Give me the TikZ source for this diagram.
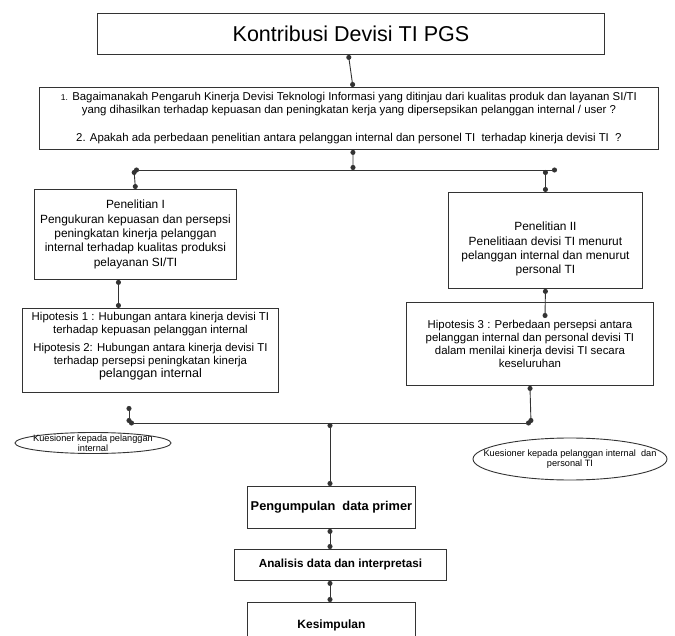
\documentclass[tikz,border=0pt]{standalone}
\usepackage{fontspec}
\setmainfont{Liberation Sans}
\usetikzlibrary{shapes.geometric,arrows.meta}

\begin{document}
\begin{tikzpicture}
[
    x=1pt, y=-1pt,
    every node/.style={draw=black!80,line width=0.9pt,inner sep=0pt,align=center,anchor=north west},
    link/.style={draw=black!80,line width=0.9pt,{Circle[length=5pt,width=5pt]}-{Circle[length=5pt,width=5pt]}},
    oval/.style={ellipse,anchor=center,font=\fontsize{9.2}{10}\selectfont},
    small/.style={font=\fontsize{11.4}{13}\selectfont},
    big/.style={font=\fontsize{11.9}{14.3}\selectfont},
    step box/.style={font=\bfseries\fontsize{12}{14}\selectfont}
  ]

  \path[fill=white,use as bounding box] (0,0) rectangle (675,636);

  \node[font=\fontsize{21.5}{24}\selectfont,minimum width=507pt,minimum height=41pt] (title) at (97,13)
    {Kontribusi Devisi TI PGS};
  \node[small,minimum width=619pt,minimum height=62pt] (quest) at (39,87)
    {{\fontsize{8.5}{8}\selectfont 1.} Bagaimanakah Pengaruh Kinerja Devisi Teknologi Informasi yang ditinjau dari kualitas produk dan layanan SI/TI\\
     yang dihasilkan terhadap kepuasan dan peningkatan kerja yang dipersepsikan pelanggan internal / user ?\\[15pt]
     2. Apakah ada perbedaan penelitian antara pelanggan internal dan personel TI\ \ terhadap kinerja devisi TI\ \ ?};

  \node[big,minimum width=202pt,minimum height=90pt] (pen1) at (34,189)
    {Penelitian I\\ Pengukuran kepuasan dan persepsi\\ peningkatan kinerja pelanggan\\
     internal terhadap kualitas produksi\\ pelayanan SI/TI};
  \node[small,minimum width=256pt,minimum height=84pt] (hip12) at (22,308)
    {Hipotesis 1 : Hubungan antara kinerja devisi TI\\ terhadap kepuasan pelanggan internal\\[5pt]
     Hipotesis 2: Hubungan antara kinerja devisi TI\\ terhadap persepsi peningkatan kinerja\\
     {\fontsize{12.5}{16}\selectfont pelanggan internal}\rule[-11pt]{0pt}{1pt}};

  \node[big,minimum width=194pt,minimum height=96pt] (pen2) at (448,192)
    {\rule{0pt}{26pt}Penelitian II\\ Penelitiaan devisi TI menurut\\ pelanggan internal dan menurut\\ personal TI};
  \node[small,minimum width=247pt,minimum height=83pt] (hip3) at (406,302)
    {Hipotesis 3 : Perbedaan persepsi antara\\ pelanggan internal dan personal devisi TI\\
     dalam menilai kinerja devisi TI secara\\ keseluruhan};

  \node[oval,inner xsep=-7pt,inner ysep=-2.5pt,minimum width=156pt,minimum height=21pt] (kues1) at (93,443)
    {Kuesioner kepada pelanggan\\ internal};
  \node[oval,inner xsep=-19pt,minimum width=194pt,minimum height=42pt] (kues2) at (570,459)
    {Kuesioner kepada pelanggan internal\ \ dan\\ personal TI};

  \node[step box,font=\bfseries\fontsize{12.8}{14}\selectfont,minimum width=168pt,minimum height=42pt] (collect) at (247,486)
    {Pengumpulan\ \ data primer};
  \node[step box,font=\bfseries\fontsize{11.7}{14}\selectfont,minimum width=212pt,minimum height=31pt] (analysis) at (234,549)
    {Analisis data dan interpretasi};
  \node[step box,minimum width=168pt,minimum height=46pt] (result) at (247,602)
    {Kesimpulan};

  \coordinate (topmid) at (353,170);
  \coordinate (topleft) at (134,170);
  \coordinate (topright) at (557,170);
  \coordinate (hipdot) at (545,318);
  \coordinate (stub) at (129,406);
  \coordinate (botleft) at (129,423);
  \coordinate (botmid) at (330,423);
  \coordinate (botright) at (531,423);

  \draw[link] ([xshift=-2.5pt]title.south) -- ([xshift=4pt]quest.north);
  \draw[link] ([xshift=4pt]quest.south) -- (topmid);
  \draw[link] (topleft) -- (topright);
  \draw[link] (topleft) -- (pen1.north);
  \draw[link] (pen2.north |- topleft) -- (pen2.north);
  \draw[link] ([xshift=-17pt]pen1.south) -- ([xshift=-17pt]pen1.south |- hip12.north);
  \draw[link] (pen2.south) -- (hipdot);
  \draw[link] (hip3.south) -- (botright);
  \draw[link] (stub) -- (botleft);
  \draw[link] (botleft) -- (botright);
  \draw[link] (botmid) -- (collect.north -| botmid);
  \draw[link] (collect.south -| botmid) -- (analysis.north -| botmid);
  \draw[link] (analysis.south -| botmid) -- (result.north -| botmid);
\end{tikzpicture}
\end{document}
